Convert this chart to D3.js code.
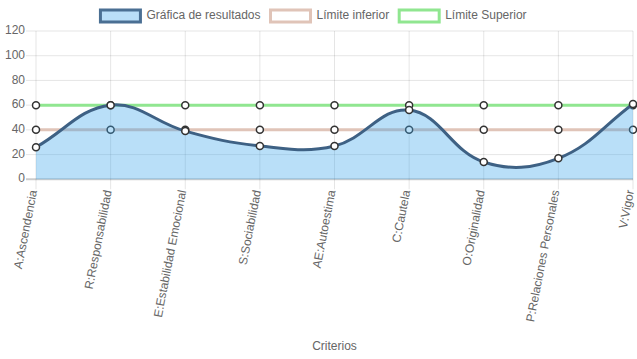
<!DOCTYPE html>
<html>
<head>
<meta charset="UTF-8">
<title>Criterios</title>
<script src="https://cdn.jsdelivr.net/npm/d3@7"></script>
<style>
  body { margin: 0; background: #fff; }
  svg { display: block; font-family: "Liberation Sans", Arial, Helvetica, sans-serif; }
</style>
</head>
<body>
<div id="chart"></div>
<script>
const categories = ["A:Ascendencia", "R:Responsabilidad", "E:Estabilidad Emocional", "S:Sociabilidad",
  "AE:Autoestima", "C:Cautela", "O:Originalidad", "P:Relaciones Personales", "V:Vigor"];
const resultados = [26, 60, 39, 27, 27, 56, 14, 17, 61];
const limiteInferior = [40, 40, 40, 40, 40, 40, 40, 40, 40];
const limiteSuperior = [60, 60, 60, 60, 60, 60, 60, 60, 60];
const yTicks = [0, 20, 40, 60, 80, 100, 120];
const seriesNames = ["Gráfica de resultados", "Límite inferior", "Límite Superior"];

const w = 637, h = 359;
const padLeft = 36, padRight = 633, padTop = 31, padBottom = 179.3;

const svg = d3.select("#chart").append("svg").attr("width", w).attr("height", h);

const x = d3.scalePoint().domain(categories).range([padLeft, padRight]);
const y = d3.scaleLinear().domain([0, 120]).range([padBottom, padTop]);

// spline like the one chart libraries use (tension 0.4, distance weighted)
function ChartSpline(context) { this._context = context; }
ChartSpline.prototype = {
  areaStart() { this._line = 0; },
  areaEnd() { this._line = NaN; },
  lineStart() { this._pts = []; },
  point(px, py) { this._pts.push([+px, +py]); },
  lineEnd() {
    const p = this._pts, n = p.length, t = 0.4, ctx = this._context;
    if (!n) return;
    const cl = v => [Math.max(padLeft, Math.min(padRight, v[0])), Math.max(padTop, Math.min(padBottom, v[1]))];
    const cp = p.map((cur, i) => {
      const prev = i > 0 ? p[i - 1] : cur, next = i < n - 1 ? p[i + 1] : cur;
      const d01 = Math.hypot(cur[0] - prev[0], cur[1] - prev[1]);
      const d12 = Math.hypot(next[0] - cur[0], next[1] - cur[1]);
      let s01 = d01 / (d01 + d12), s12 = d12 / (d01 + d12);
      if (isNaN(s01)) s01 = 0;
      if (isNaN(s12)) s12 = 0;
      const fa = t * s01, fb = t * s12;
      return {
        prev: cl([cur[0] - fa * (next[0] - prev[0]), cur[1] - fa * (next[1] - prev[1])]),
        next: cl([cur[0] + fb * (next[0] - prev[0]), cur[1] + fb * (next[1] - prev[1])])
      };
    });
    if (this._line) ctx.lineTo(p[0][0], p[0][1]); else ctx.moveTo(p[0][0], p[0][1]);
    for (let i = 1; i < n; i++) {
      ctx.bezierCurveTo(cp[i - 1].next[0], cp[i - 1].next[1], cp[i].prev[0], cp[i].prev[1], p[i][0], p[i][1]);
    }
    if (this._line || (this._line !== 0 && n === 1)) ctx.closePath();
    this._line = 1 - this._line;
  }
};
const chartSpline = ctx => new ChartSpline(ctx);

// grid
const grid = svg.append("g");
grid.selectAll(".hg").data(yTicks.filter(d => d !== 0)).enter().append("line")
  .attr("x1", padLeft - 10).attr("x2", padRight)
  .attr("y1", d => y(d)).attr("y2", d => y(d))
  .attr("stroke", "rgba(0,0,0,0.1)");
grid.selectAll(".vg").data(categories).enter().append("line")
  .attr("x1", d => x(d)).attr("x2", d => x(d))
  .attr("y1", padTop).attr("y2", padBottom + 10)
  .attr("stroke", "rgba(0,0,0,0.1)");
grid.append("line")
  .attr("x1", padLeft - 10).attr("x2", padRight)
  .attr("y1", y(0)).attr("y2", y(0))
  .attr("stroke", "rgba(0,0,0,0.2)").attr("stroke-width", 2);

// y labels
svg.selectAll(".yl").data(yTicks).enter().append("text")
  .attr("x", padLeft - 11).attr("y", d => y(d))
  .attr("text-anchor", "end").attr("dominant-baseline", "middle")
  .attr("fill", "#666").style("font-size", "12px")
  .text(d => d);

// x labels, rotated
svg.selectAll(".xl").data(categories).enter().append("text")
  .attr("transform", d => `translate(${x(d) - 2},${padBottom + 11}) rotate(-79)`)
  .attr("text-anchor", "end").attr("dominant-baseline", "middle")
  .attr("fill", "#666").style("font-size", "12px")
  .text(d => d);

svg.append("text")
  .attr("x", (padLeft + padRight) / 2).attr("y", 347)
  .attr("text-anchor", "middle").attr("dominant-baseline", "middle")
  .attr("fill", "#666").style("font-size", "12px")
  .text("Criterios");

const line = d3.line().x((d, i) => x(categories[i])).y(d => y(d)).curve(chartSpline);
const area = d3.area().x((d, i) => x(categories[i])).y0(y(0)).y1(d => y(d)).curve(chartSpline);

function drawSeries(values, stroke, width, fill) {
  const g = svg.append("g");
  if (fill) g.append("path").attr("d", area(values)).attr("fill", fill);
  g.append("path").attr("d", line(values)).attr("fill", "none")
    .attr("stroke", stroke).attr("stroke-width", width);
  g.selectAll("circle").data(values).enter().append("circle")
    .attr("cx", (d, i) => x(categories[i])).attr("cy", d => y(d))
    .attr("r", 3.5).attr("fill", "#fff")
    .attr("stroke", "#333").attr("stroke-width", 1.5);
}

drawSeries(limiteSuperior, "#90e690", 3, null);
drawSeries(limiteInferior, "#e0c4b8", 3, null);
drawSeries(resultados, "#3e6184", 3, "rgba(54,162,235,0.35)");

// legend
const legendStyles = [
  { fill: "#b9def8", stroke: "#4a6f93" },
  { fill: "#fff", stroke: "#e0c4b8" },
  { fill: "#fff", stroke: "#90e690" }
];
const legend = svg.append("g");
const items = legend.selectAll("g").data(seriesNames).enter().append("g");
items.append("text")
  .attr("y", 16).attr("dominant-baseline", "middle")
  .attr("fill", "#666").style("font-size", "12px")
  .text(d => d);
const widths = [];
items.select("text").each(function () { widths.push(this.getComputedTextLength()); });
const total = d3.sum(widths, wd => 40 + 6 + wd + 10);
let cx = (w - total) / 2;
items.each(function (d, i) {
  const it = d3.select(this);
  it.insert("rect", "text")
    .attr("x", cx).attr("y", 10).attr("width", 40).attr("height", 12)
    .attr("fill", legendStyles[i].fill)
    .attr("stroke", legendStyles[i].stroke).attr("stroke-width", 3);
  it.select("text").attr("x", cx + 46);
  cx += 46 + widths[i] + 10;
});
</script>
</body>
</html>
